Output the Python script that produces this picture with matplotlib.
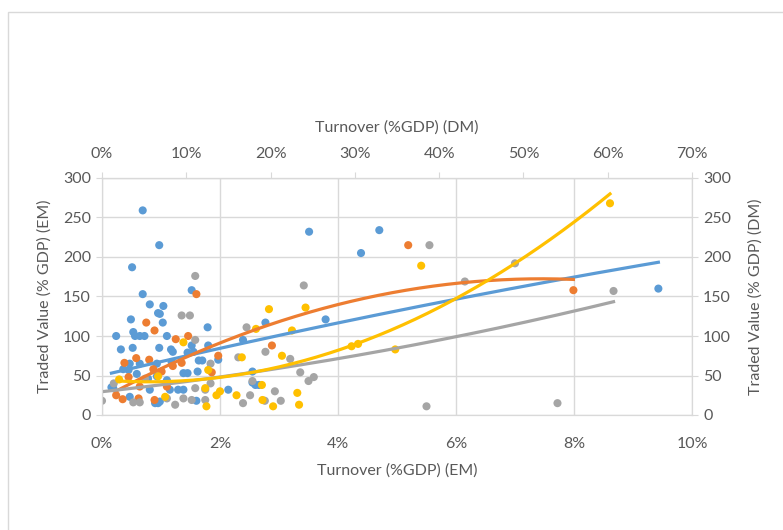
import numpy as np
import matplotlib.pyplot as plt
from matplotlib.ticker import FuncFormatter, MultipleLocator
from matplotlib.patches import Rectangle

# turnover (% of GDP, EM scale) and traded value (% of GDP)
blue_x = [0.69, 0.97, 0.51, 3.51, 4.70, 4.39, 0.69, 1.52, 0.81, 1.04, 0.95, 0.98, 0.49, 1.03,
          1.79, 3.79, 2.77, 0.24, 0.53, 0.56, 0.64, 0.72, 1.10, 0.32, 0.52, 0.97, 1.17, 1.20,
          1.52, 1.55, 1.45, 1.80, 1.97, 2.39, 1.64, 1.70, 1.18, 0.93, 0.64, 0.47, 0.45, 0.36,
          1.45, 1.62, 1.38, 0.93, 0.59, 0.78, 1.10, 1.29, 1.38, 1.15, 0.81, 0.16, 0.19, 0.47,
          0.90, 0.95, 0.98, 1.60, 2.14, 2.55, 2.60, 2.66, 2.55, 9.43]
blue_y = [259, 215, 187, 232, 234, 205, 153, 158, 140, 138, 129, 128, 121, 117,
          111, 121, 117, 100, 105, 100, 100, 100, 100, 83, 85, 85, 83, 80,
          88, 80, 79, 88, 70, 95, 69, 69, 67, 65, 65, 65, 57, 58,
          53, 55, 53, 49, 52, 46, 44, 32, 32, 32, 32, 35, 34, 23,
          15, 15, 17, 18, 32, 41, 38, 38, 55, 160]

orange_x = [1.60, 0.75, 0.89, 1.25, 1.46, 1.97, 1.86, 0.38, 0.58, 0.80, 0.87, 1.01, 1.35,
            0.24, 0.35, 0.62, 0.89, 1.10, 0.64, 2.88, 5.19, 7.99, 0.45, 1.20]
orange_y = [153, 117, 107, 96, 100, 75, 54, 66, 72, 70, 58, 55, 66,
            25, 20, 21, 19, 36, 36, 88, 215, 158, 48, 62]

gray_x = [1.58, 3.42, 1.35, 1.49, 1.58, 2.45, 2.77, 3.19, 3.36, 3.50, 3.59, 2.93, 2.76, 3.03,
          2.39, 2.51, 2.31, 2.55, 0.00, 0.53, 0.64, 1.24, 1.38, 1.52, 1.58, 1.75, 1.75, 0.20,
          0.73, 1.84, 1.84, 1.10, 6.15, 5.55, 7.00, 5.50, 7.72, 8.67]
gray_y = [176, 164, 126, 126, 95, 111, 80, 71, 54, 43, 48, 30, 18, 18,
          15, 25, 73, 43, 18, 16, 16, 13, 21, 19, 34, 32, 19, 40,
          46, 65, 40, 21, 169, 215, 192, 11, 15, 157]

yellow_x = [2.83, 3.45, 2.61, 3.22, 1.38, 2.37, 3.05, 0.29, 0.95, 1.75, 1.94, 2.00, 2.28, 1.77,
            1.07, 2.71, 2.72, 2.90, 3.31, 3.34, 1.80, 5.41, 4.23, 4.34, 4.97, 8.61]
yellow_y = [134, 136, 109, 107, 92, 73, 75, 45, 49, 34, 25, 30, 25, 11,
            23, 38, 19, 11, 28, 13, 57, 189, 87, 90, 83, 268]

# polynomial trendline coefficients (highest power first)
blue_trend = [-0.26, 17.63, 50.2]
orange_trend = [-2.73, 40.7, 20.7]
gray_trend = [0.574, 8.16, 29.5]
yellow_trend = [3.9, -6.24, 44.5]

series = [
    (blue_x, blue_y, blue_trend, '#5B9BD5'),
    (orange_x, orange_y, orange_trend, '#ED7D31'),
    (gray_x, gray_y, gray_trend, '#A5A5A5'),
    (yellow_x, yellow_y, yellow_trend, '#FFC000'),
]

plt.rcParams['font.family'] = ['Lato', 'DejaVu Sans']
txt = '#595959'
grid = '#D9D9D9'

fig = plt.figure(figsize=(7.83, 5.30), dpi=100)
fig.patches.append(Rectangle((8 / 783, -0.05), 1.0, 1.05 - 12 / 530, transform=fig.transFigure,
                             fill=False, edgecolor='#D9D9D9', linewidth=1))
ax = fig.add_axes([102 / 783, 115 / 530, 590 / 783, 237 / 530])

for x, y, coef, c in series:
    ax.scatter(x, y, s=34, color=c, edgecolors='none', zorder=3)
for x, y, coef, c in series:
    xs = np.linspace(min(x), max(x), 200)
    ax.plot(xs, np.polyval(coef, xs), color=c, linewidth=2.3, zorder=4)

ax.set_xlim(0, 10)
ax.set_ylim(0, 300)
ax.xaxis.set_major_locator(MultipleLocator(2))
ax.yaxis.set_major_locator(MultipleLocator(50))
ax.xaxis.set_major_formatter(FuncFormatter(lambda v, p: '%d%%' % round(v)))
ax.grid(True, color=grid, linewidth=1)
ax.set_axisbelow(True)
for s in ax.spines.values():
    s.set_color(grid)
ax.tick_params(axis='x', length=0, colors=txt, labelsize=11.5, pad=16)
ax.tick_params(axis='y', length=4, color=grid, colors=txt, labelsize=11.5, pad=4)
ax.set_xlabel('Turnover (%GDP) (EM)', color=txt, fontsize=11.5, labelpad=9)
ax.set_ylabel('Traded Value (% GDP) (EM)', color=txt, fontsize=11.5, labelpad=8)

ax2 = ax.twinx()
ax2.set_ylim(0, 300)
ax2.yaxis.set_major_locator(MultipleLocator(50))
ax2.tick_params(axis='y', length=4, color=grid, colors=txt, labelsize=11.5, pad=4)
for s in ax2.spines.values():
    s.set_color(grid)
ax2.set_ylabel('Traded Value (% GDP) (DM)', color=txt, fontsize=11.5, labelpad=12)

top = ax.secondary_xaxis('top', functions=(lambda v: v * 7, lambda v: v / 7))
top.xaxis.set_major_locator(MultipleLocator(10))
top.xaxis.set_major_formatter(FuncFormatter(lambda v, p: '%d%%' % round(v)))
top.tick_params(axis='x', length=4, color=grid, colors=txt, labelsize=11.5, pad=8)
top.spines['top'].set_color(grid)
top.set_xlabel('Turnover (%GDP) (DM)', color=txt, fontsize=11.5, labelpad=11)

fig.savefig('out.png', dpi=100)
